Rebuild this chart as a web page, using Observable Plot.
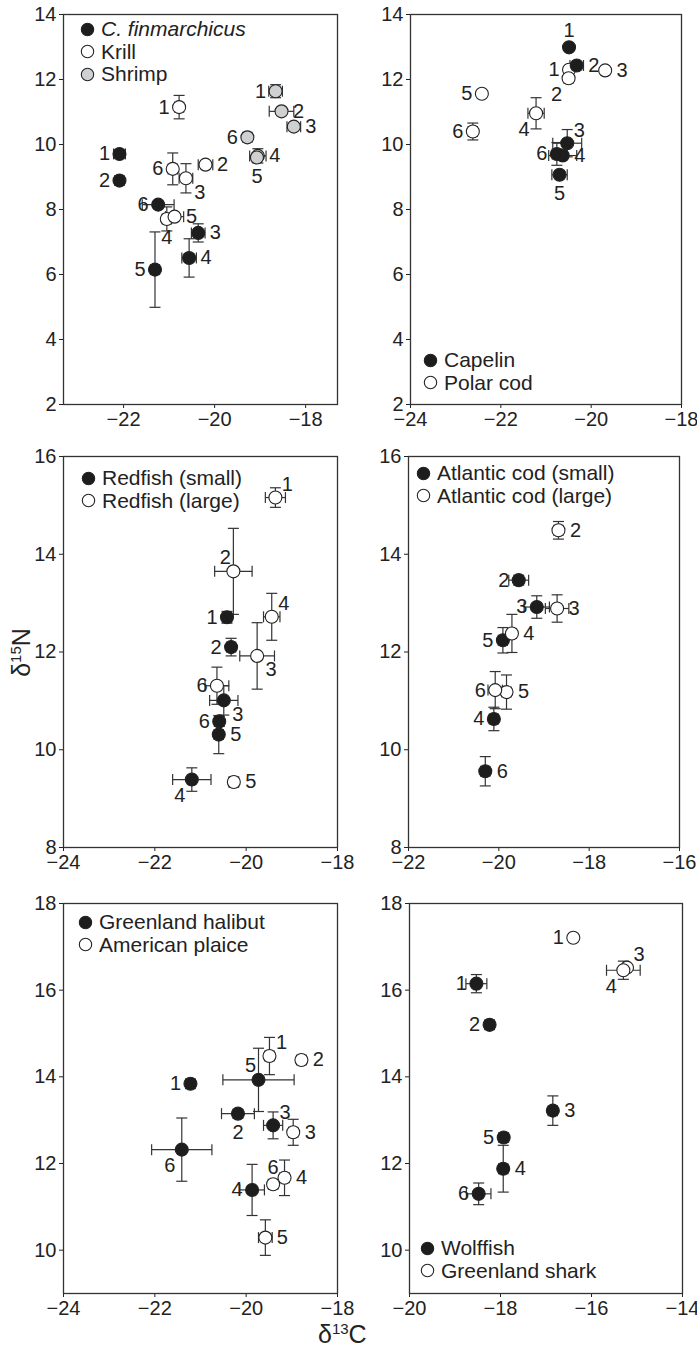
<!DOCTYPE html>
<html><head><meta charset="utf-8">
<script src="https://cdn.jsdelivr.net/npm/d3@7"></script>
<script src="https://cdn.jsdelivr.net/npm/@observablehq/plot@0.6"></script>
<style>
body{margin:0;background:#fff;font-family:"Liberation Sans",Arial,Helvetica,sans-serif;color:#222}
#root{position:relative;width:697px;height:1351px;overflow:hidden;background:#fff}
.panel{position:absolute}
.panel svg{overflow:visible}
.legend{position:absolute;font-size:21px;line-height:22.5px;white-space:nowrap}
.legend .row{display:flex;align-items:center;height:22.5px}
.legend svg{margin-right:6px}
.axl{position:absolute;font-size:25px;white-space:nowrap;line-height:28px}
.axl sup{font-size:15px;vertical-align:9px}
</style></head><body><div id="root"></div>
<script>
// rows: [id, d13C, d15N, d13C error, d15N error, label position]
const cfin = [
  ["1", -22.09, 9.71, 0.13, 0.1, "W"],
  ["2", -22.09, 8.89, 0.1, 0.1, "W"],
  ["3", -20.36, 7.28, 0.15, 0.28, "E"],
  ["4", -20.56, 6.51, 0.16, 0.59, "E"],
  ["5", -21.31, 6.15, 0.1, 1.16, "W"],
  ["6", -21.24, 8.15, 0.35, 0.1, "W"]
];
const krill = [
  ["1", -20.78, 11.15, 0.1, 0.36, "W"],
  ["2", -20.2, 9.38, 0.16, 0.1, "E"],
  ["3", -20.63, 8.96, 0.15, 0.45, "SE"],
  ["4", -21.05, 7.71, 0.1, 0.37, "S"],
  ["5", -20.88, 7.78, 0.2, 0.1, "E"],
  ["6", -20.92, 9.25, 0.1, 0.49, "W"]
];
const shrimp = [
  ["1", -18.66, 11.64, 0.15, 0.2, "W"],
  ["2", -18.53, 11.02, 0.27, 0.1, "E"],
  ["3", -18.26, 10.55, 0.15, 0.1, "E"],
  ["4", -19.05, 9.65, 0.18, 0.22, "E"],
  ["5", -19.07, 9.6, 0.1, 0.1, "S"],
  ["6", -19.28, 10.22, 0.1, 0.1, "W"]
];
const capelin = [
  ["1", -20.49, 12.99, 0, 0, "N"],
  ["2", -20.32, 12.43, 0.15, 0.1, "E"],
  ["3", -20.53, 10.04, 0.32, 0.42, "NE"],
  ["4", -20.63, 9.66, 0.31, 0.1, "E"],
  ["5", -20.7, 9.07, 0.17, 0.1, "S"],
  ["6", -20.76, 9.71, 0.1, 0.35, "W"]
];
const polarCod = [
  ["1", -20.49, 12.3, 0, 0, "W"],
  ["2", -20.5, 12.04, 0.1, 0.1, "SW"],
  ["3", -19.69, 12.28, 0, 0, "E"],
  ["4", -21.22, 10.96, 0.18, 0.48, "SW"],
  ["5", -22.42, 11.56, 0, 0, "W"],
  ["6", -22.62, 10.4, 0.1, 0.26, "W"]
];
const redfishSmall = [
  ["1", -20.42, 12.71, 0.1, 0.12, "W"],
  ["2", -20.33, 12.1, 0.1, 0.18, "W"],
  ["3", -20.49, 11.01, 0.31, 0.3, "SE"],
  ["4", -21.19, 9.39, 0.42, 0.24, "SW"],
  ["5", -20.6, 10.31, 0.1, 0.39, "E"],
  ["6", -20.59, 10.58, 0.1, 0.1, "W"]
];
const redfishLarge = [
  ["1", -19.36, 15.16, 0.22, 0.2, "NE"],
  ["2", -20.28, 13.65, 0.41, 0.88, "NW"],
  ["3", -19.76, 11.92, 0.38, 0.68, "SE"],
  ["4", -19.44, 12.72, 0.18, 0.48, "NE"],
  ["5", -20.27, 9.34, 0.1, 0.1, "E"],
  ["6", -20.64, 11.31, 0.26, 0.38, "W"]
];
const codSmall = [
  ["2", -19.56, 13.47, 0.22, 0.1, "W"],
  ["3", -19.16, 12.92, 0.28, 0.23, "W"],
  ["4", -20.11, 10.63, 0.1, 0.24, "W"],
  ["5", -19.91, 12.24, 0.1, 0.26, "W"],
  ["6", -20.3, 9.56, 0.1, 0.3, "E"]
];
const codLarge = [
  ["2", -18.68, 14.49, 0.1, 0.18, "E"],
  ["3", -18.71, 12.89, 0.26, 0.28, "E"],
  ["4", -19.71, 12.38, 0.1, 0.39, "E"],
  ["5", -19.83, 11.18, 0.1, 0.35, "E"],
  ["6", -20.08, 11.22, 0.16, 0.38, "W"]
];
const halibut = [
  ["1", -21.22, 13.84, 0.1, 0.1, "W"],
  ["2", -20.18, 13.15, 0.36, 0.1, "S"],
  ["3", -19.41, 12.88, 0.21, 0.31, "NE"],
  ["4", -19.87, 11.39, 0.27, 0.59, "W"],
  ["5", -19.73, 13.93, 0.78, 0.73, "NW"],
  ["6", -21.41, 12.32, 0.66, 0.73, "SW"]
];
const plaice = [
  ["1", -19.49, 14.48, 0.1, 0.43, "NE"],
  ["2", -18.79, 14.39, 0.1, 0.1, "E"],
  ["3", -18.97, 12.72, 0.1, 0.3, "E"],
  ["4", -19.16, 11.67, 0.1, 0.41, "E"],
  ["5", -19.58, 10.29, 0.15, 0.41, "E"],
  ["6", -19.41, 11.52, 0.1, 0.1, "N"]
];
const wolffish = [
  ["1", -18.53, 16.15, 0.23, 0.21, "W"],
  ["2", -18.24, 15.2, 0.1, 0.1, "W"],
  ["3", -16.85, 13.22, 0.1, 0.34, "E"],
  ["4", -17.94, 11.88, 0.1, 0.54, "E"],
  ["5", -17.93, 12.6, 0.1, 0.1, "W"],
  ["6", -18.48, 11.3, 0.27, 0.25, "W"]
];
const shark = [
  ["1", -16.4, 17.21, 0, 0, "W"],
  ["3", -15.22, 16.52, 0, 0, "NE"],
  ["4", -15.3, 16.46, 0.37, 0.21, "SW"]
];

const xTicks = [[-22,-20,-18],[-24,-22,-20,-18],[-24,-22,-20,-18],[-22,-20,-18,-16],[-24,-22,-20,-18],[-20,-18,-16,-14]];
const yTicks = [[2,4,6,8,10,12,14],[2,4,6,8,10,12,14],[8,10,12,14,16],[8,10,12,14,16],[10,12,14,16,18],[10,12,14,16,18]];

const BLACK = "#1d1d1d", WHITE = "#ffffff", GRAY = "#cfd0d2";
const FONT = "'Liberation Sans', Arial, Helvetica, sans-serif";

const panels = [
  {frame:[63,14,274,390], xd:[-23.32,-17.3], yd:[2,14], series:[[cfin,BLACK],[krill,WHITE],[shrimp,GRAY]],
   legend:{x:80,y:18, items:[["C. finmarchicus",BLACK,true],["Krill",WHITE],["Shrimp",GRAY]]}},
  {frame:[410,14,271,390], xd:[-24,-18], yd:[2,14], series:[[polarCod,WHITE],[capelin,BLACK]],
   legend:{x:423,y:349, items:[["Capelin",BLACK],["Polar cod",WHITE]]}},
  {frame:[63,456,274,391], xd:[-24,-18], yd:[8,16], series:[[redfishSmall,BLACK],[redfishLarge,WHITE]],
   legend:{x:81,y:467, items:[["Redfish (small)",BLACK],["Redfish (large)",WHITE]]}},
  {frame:[408,456,271,391], xd:[-22,-16], yd:[8,16], series:[[codSmall,BLACK],[codLarge,WHITE]],
   legend:{x:416,y:462, items:[["Atlantic cod (small)",BLACK],["Atlantic cod (large)",WHITE]]}},
  {frame:[63,903,274,390], xd:[-24,-18], yd:[9,18], series:[[halibut,BLACK],[plaice,WHITE]],
   legend:{x:78,y:911, items:[["Greenland halibut",BLACK],["American plaice",WHITE]]}},
  {frame:[409,903,273,390], xd:[-20,-14], yd:[9,18], series:[[wolffish,BLACK],[shark,WHITE]],
   legend:{x:420,y:1237, items:[["Wolffish",BLACK],["Greenland shark",WHITE]]}}
];

const OFF = {W:[-15,0],E:[17,0],N:[0,-17],S:[0,19],NE:[12,-13],NW:[-8,-14],SE:[14,14],SW:[-12,16]};

const capH = {draw(ctx, size){const r=Math.sqrt(size/Math.PI); ctx.moveTo(-r,0); ctx.lineTo(r,0);}};
const capV = {draw(ctx, size){const r=Math.sqrt(size/Math.PI); ctx.moveTo(0,-r); ctx.lineTo(0,r);}};

const root = document.getElementById("root");
const ML=50, MR=12, MT=12, MB=36;
const fmt = d3.format("d");

panels.forEach((p, i) => {
  const [fl, ft, fw, fh] = p.frame;
  const marks = [];
  const all = [];
  const groups = [];
  p.series.forEach(([rows, fill]) => {
    const data = rows.map(([id,x,y,xe,ye,pos]) => ({id,x,y,xe,ye,pos,fill}));
    groups.push([data, fill]);
    all.push(...data);
  });
  const ex = all.filter(d => d.xe > 0), ey = all.filter(d => d.ye > 0);
  const st = {stroke:"#333", strokeWidth:1.2};
  marks.push(Plot.link(ex, {x1:d=>d.x-d.xe, x2:d=>d.x+d.xe, y1:"y", y2:"y", ...st}));
  marks.push(Plot.link(ey, {x1:"x", x2:"x", y1:d=>d.y-d.ye, y2:d=>d.y+d.ye, ...st}));
  marks.push(Plot.dot(ex, {x:d=>d.x-d.xe, y:"y", symbol:capV, r:5.5, fill:"none", ...st}));
  marks.push(Plot.dot(ex, {x:d=>d.x+d.xe, y:"y", symbol:capV, r:5.5, fill:"none", ...st}));
  marks.push(Plot.dot(ey, {x:"x", y:d=>d.y-d.ye, symbol:capH, r:5.5, fill:"none", ...st}));
  marks.push(Plot.dot(ey, {x:"x", y:d=>d.y+d.ye, symbol:capH, r:5.5, fill:"none", ...st}));
  groups.forEach(([data, fill]) => {
    marks.push(Plot.dot(data, {x:"x", y:"y", r:6.5, fill, stroke:"#222", strokeWidth:1.1}));
  });
  Object.entries(OFF).forEach(([k,[dx,dy]]) => {
    marks.push(Plot.text(all.filter(d=>d.pos===k), {x:"x", y:"y", text:"id", dx, dy, fontSize:20, fill:"#222"}));
  });
  marks.push(Plot.frame({stroke:"#333", strokeWidth:1.3}));

  const chart = Plot.plot({
    width: fw+ML+MR, height: fh+MT+MB,
    marginLeft:ML, marginRight:MR, marginTop:MT, marginBottom:MB,
    style:{fontFamily:FONT, fontSize:"20px", color:"#222", background:"transparent", overflow:"visible"},
    x:{domain:p.xd, ticks:xTicks[i], tickFormat:fmt, tickSize:4, tickPadding:3, label:null},
    y:{domain:p.yd, ticks:yTicks[i], tickFormat:fmt, tickSize:4, tickPadding:3, label:null},
    marks
  });
  const wrap = document.createElement("div");
  wrap.className = "panel";
  wrap.style.left = (fl-ML)+"px";
  wrap.style.top = (ft-MT)+"px";
  wrap.appendChild(chart);
  root.appendChild(wrap);

  const lg = document.createElement("div");
  lg.className = "legend";
  lg.style.left = p.legend.x+"px";
  lg.style.top = p.legend.y+"px";
  p.legend.items.forEach(([name, fill, ital]) => {
    const row = document.createElement("div");
    row.className = "row";
    row.innerHTML = `<svg width="15" height="15" viewBox="0 0 15 15"><circle cx="7.5" cy="7.5" r="6.2" fill="${fill}" stroke="#222" stroke-width="1.1"/></svg><span${ital?' style="font-style:italic"':''}>${name}</span>`;
    lg.appendChild(row);
  });
  root.appendChild(lg);
});

const yl = document.createElement("div");
yl.className = "axl";
yl.innerHTML = "δ<sup>15</sup>N";
yl.style.left = "-6px"; yl.style.top = "636px";
yl.style.transform = "rotate(-90deg)";
root.appendChild(yl);
const xl = document.createElement("div");
xl.className = "axl";
xl.innerHTML = "δ<sup>13</sup>C";
xl.style.left = "318px"; xl.style.top = "1315px";
root.appendChild(xl);
</script></body></html>
